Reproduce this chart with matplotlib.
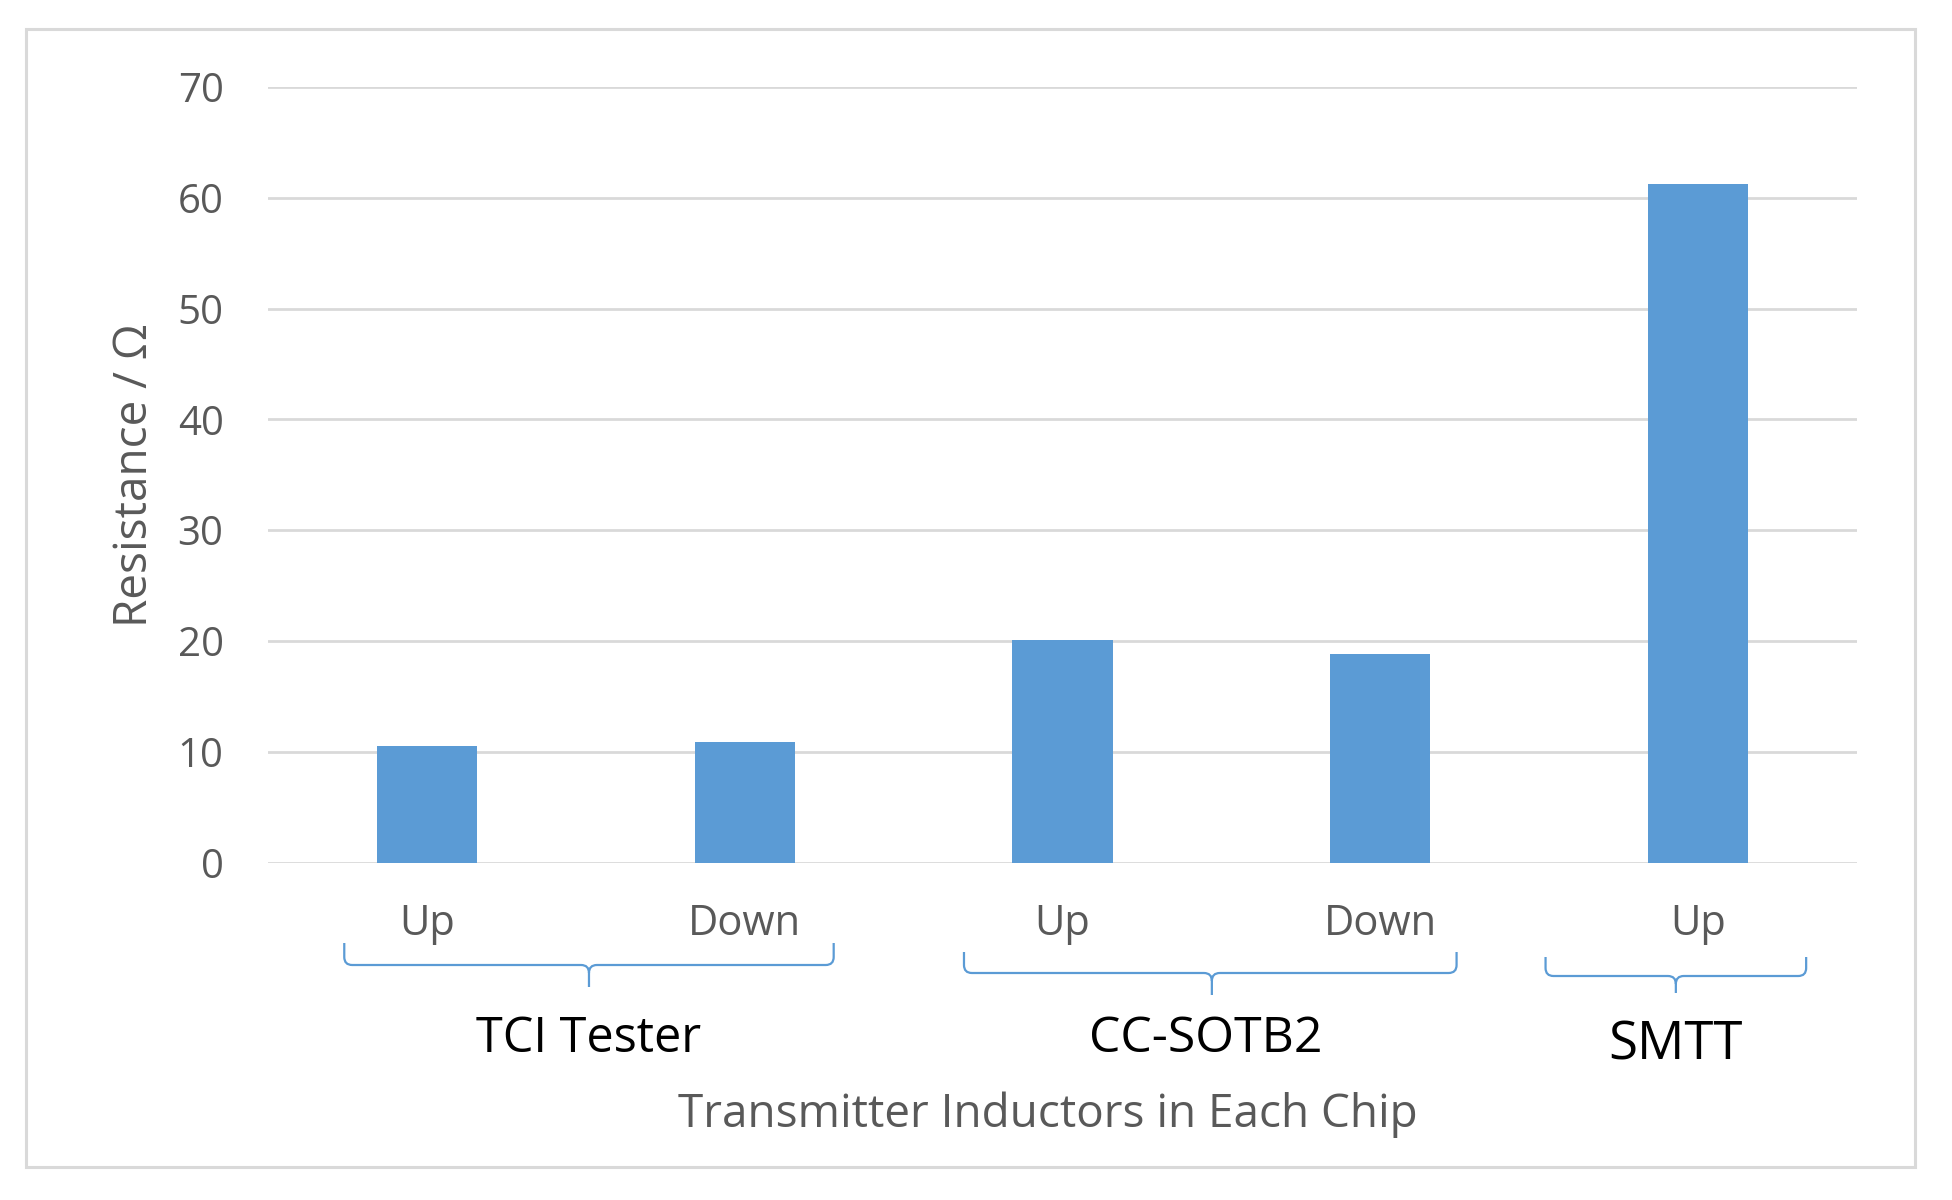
import numpy as np
import matplotlib
matplotlib.use("Agg")
import matplotlib.pyplot as plt
from matplotlib.path import Path
from matplotlib.patches import PathPatch, Rectangle
from matplotlib.transforms import blended_transform_factory

# Datos
subgrupos = ["Up", "Down", "Up", "Down", "Up"]
resistencia = [10.5, 10.85, 20.1, 18.8, 61.25]
chips = ["TCI Tester", "CC-SOTB2", "SMTT"]
# limites de cada llave (en unidades de categoria) y punta central
llaves = [(-0.26, 1.28, 0.51), (1.69, 3.24, 2.47), (3.52, 4.34, 3.93)]
# alturas de cada llave en pixeles (arriba, horizontal, punta) y base del texto
llaves_y = [(943, 965, 987, 1052), (952, 973, 995, 1052), (957, 976, 993, 1060)]
chip_size = [35, 36, 38]
chip_dx = [0.0, -0.02, 0.0]

W, H = 1952, 1200
plt.rcParams['font.family'] = ['Open Sans', 'DejaVu Sans']
gris = "#595959"
azul = "#5B9BD5"

fig = plt.figure(figsize=(W / 100, H / 100), dpi=100, facecolor="white")
ax = fig.add_axes([268 / W, 1 - 862.5 / H, (1857 - 268) / W, (862.5 - 87) / H])

x = np.arange(len(resistencia))
ax.bar(x, resistencia, width=0.315, color=azul, zorder=3)

ax.set_xlim(-0.5, len(x) - 0.5)
ax.set_ylim(0, 70)
ax.set_yticks(np.arange(0, 71, 10))
ax.grid(axis="y", color="#D9D9D9", linewidth=2.0, zorder=0)
for s in ax.spines.values():
    s.set_visible(False)
ax.tick_params(axis="y", length=0, colors=gris, labelsize=29, pad=32)
ax.tick_params(axis="x", length=0, colors=gris, labelsize=30, pad=29)
ax.set_xticks(x)
ax.set_xticklabels(subgrupos)

ax.set_ylabel("Resistance / Ω", fontsize=33, color=gris)
ax.yaxis.set_label_coords(-0.069, 0.5)

# Llaves y nombres de los chips
tr = blended_transform_factory(ax.transData, fig.transFigure)
rx, ry = 0.025, 8 / H
for (x0, x1, xm), (yt, yh, yb, ytxt), nombre, fs, dx in zip(llaves, llaves_y, chips, chip_size, chip_dx):
    yt, yh, yb = 1 - yt / H, 1 - yh / H, 1 - yb / H
    verts = [(x0, yt), (x0, yh + ry), (x0, yh), (x0 + rx, yh),
             (xm - rx, yh), (xm, yh), (xm, yh - ry), (xm, yb),
             (x1, yt), (x1, yh + ry), (x1, yh), (x1 - rx, yh),
             (xm + rx, yh), (xm, yh), (xm, yh - ry)]
    codes = [Path.MOVETO, Path.LINETO, Path.CURVE3, Path.CURVE3,
             Path.LINETO, Path.CURVE3, Path.CURVE3, Path.LINETO,
             Path.MOVETO, Path.LINETO, Path.CURVE3, Path.CURVE3,
             Path.LINETO, Path.CURVE3, Path.CURVE3]
    ax.add_patch(PathPatch(Path(verts, codes), transform=tr, fill=False,
                           edgecolor=azul, linewidth=1.6, clip_on=False))
    ax.text(xm + dx, 1 - ytxt / H, nombre, transform=tr, ha="center", va="baseline",
            fontsize=fs, color="black")

# Titulo del eje x
fig.text(1048 / W, 1 - 1127 / H, "Transmitter Inductors in Each Chip",
         ha="center", va="baseline", fontsize=33, color=gris)

# Marco
fig.patches.append(Rectangle((26 / W, 1 - 1167 / H), (1915 - 26) / W, (1167 - 29) / H,
                             transform=fig.transFigure, fill=False,
                             edgecolor="#D9D9D9", linewidth=2.2))

plt.savefig("out.png", dpi=100, facecolor="white")
